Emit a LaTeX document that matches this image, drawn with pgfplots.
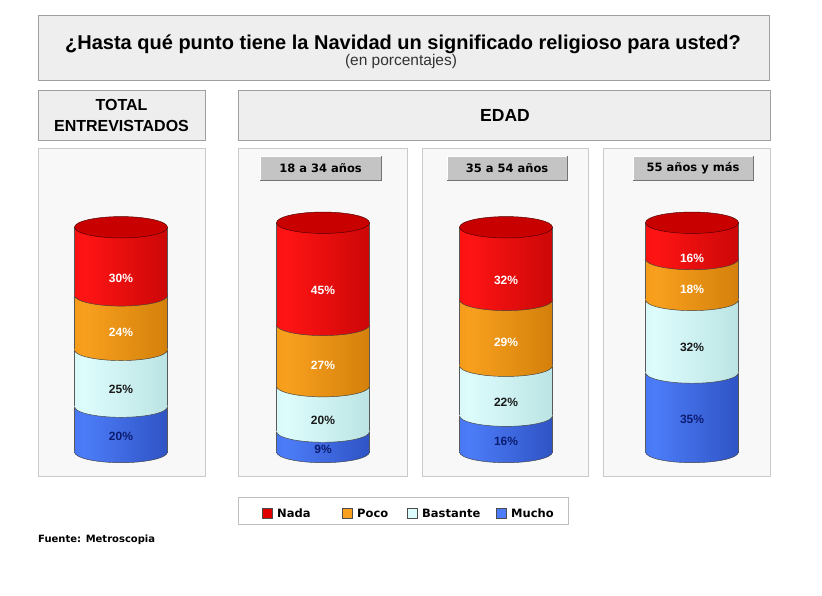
\documentclass[border=0pt]{standalone}
\usepackage{pgfplots}
\pgfplotsset{compat=1.18}
\usepackage{fontspec}
\setmainfont{Liberation Sans}
\newfontfamily\verd{DejaVu Sans}

% cylinder colours (left edge, highlight, right edge)
\definecolor{redL}{HTML}{E00000}
\definecolor{redM}{HTML}{FF1414}
\definecolor{redR}{HTML}{B00000}
\definecolor{redTop}{HTML}{C80000}
\definecolor{orgL}{HTML}{E38600}
\definecolor{orgM}{HTML}{F8A01E}
\definecolor{orgR}{HTML}{BF6E00}
\definecolor{cyaL}{HTML}{C6EEEE}
\definecolor{cyaM}{HTML}{DDFCFC}
\definecolor{cyaR}{HTML}{A9D6D6}
\definecolor{bluL}{HTML}{3060E0}
\definecolor{bluM}{HTML}{4C7CF8}
\definecolor{bluR}{HTML}{1F3DA8}
\definecolor{boxfill}{HTML}{EEEEEE}
\definecolor{boxline}{HTML}{A0A0A0}
\definecolor{panfill}{HTML}{F8F8F8}
\definecolor{panline}{HTML}{CACACA}
\definecolor{tabfill}{HTML}{C4C4C4}
\definecolor{labblue}{HTML}{0C1C70}
\definecolor{labcyan}{HTML}{1A1A1A}

\pgfdeclarehorizontalshading{shred}{100bp}{color(0bp)=(redL); color(30bp)=(redM); color(100bp)=(redR)}
\pgfdeclarehorizontalshading{shorange}{100bp}{color(0bp)=(orgL); color(30bp)=(orgM); color(100bp)=(orgR)}
\pgfdeclarehorizontalshading{shcyan}{100bp}{color(0bp)=(cyaL); color(30bp)=(cyaM); color(100bp)=(cyaR)}
\pgfdeclarehorizontalshading{shblue}{100bp}{color(0bp)=(bluL); color(30bp)=(bluM); color(100bp)=(bluR)}

% lower half of an ellipse: the rounded bottom edge of a cylinder segment
% (reaching a hair above the seam so the joint between segments is hidden)
\newcommand\halfmark[1]{%
  \pgfdeclareplotmark{half#1}{%
    \pgfpathmoveto{\pgfqpoint{-\pgfplotmarksize}{0.9pt}}%
    \pgfpathlineto{\pgfqpoint{-\pgfplotmarksize}{0pt}}%
    \pgfpatharc{180}{360}{\pgfplotmarksize and 0.23\pgfplotmarksize}%
    \pgfpathlineto{\pgfqpoint{\pgfplotmarksize}{0.9pt}}%
    \pgfpathclose
    \pgfshadepath{sh#1}{0}%
    \pgfusepath{discard}%
    \pgfpathmoveto{\pgfqpoint{-\pgfplotmarksize}{0pt}}%
    \pgfpatharc{180}{360}{\pgfplotmarksize and 0.23\pgfplotmarksize}%
    \pgfusepathqstroke}}
\halfmark{red}\halfmark{orange}\halfmark{cyan}\halfmark{blue}
% full ellipse: the lid of a cylinder
\pgfdeclareplotmark{lid}{%
  \pgfpathellipse{\pgfpointorigin}{\pgfqpoint{\pgfplotmarksize}{0pt}}{\pgfqpoint{0pt}{0.23\pgfplotmarksize}}%
  \pgfusepathqfillstroke}

\pgfplotsset{
  seglabel/.style 2 args={
    nodes near coords={\pgfmathprintnumber{\pgfplotspointmeta}\%},
    every node near coord/.append style={anchor=center, yshift=-#2pt,
      font=\bfseries\fontsize{12}{12}\selectfont, text=#1}},
  edge/.style={only marks, mark options={draw=black!75, line width=0.45pt}},
  cylaxis/.style={at={(#1pt-58pt,-452pt)}, anchor=south west,
    x=1pt, y=2.27pt, xmin=-58, xmax=58, ymin=0, ymax=105,
    hide axis, clip=false, /pgf/number format/assume math mode=true}
}

% one stacked cylinder: centre x, Mucho, Bastante, Poco, Nada
\newcommand\cylinder[5]{%
\begin{axis}[cylaxis=#1, ybar stacked, bar width=93pt,
    every axis plot/.append style={draw=black!65, line width=0.45pt}]
  \addplot[shading=shblue] coordinates {(0,#2)};
  \addplot[shading=shcyan] coordinates {(0,#3)};
  \addplot[shading=shorange] coordinates {(0,#4)};
  \addplot[shading=shred] coordinates {(0,#5)};
\end{axis}
% rims and lid, stacked on the same values
\begin{axis}[cylaxis=#1, stack plots=y, mark size=46.5pt]
  \addplot[edge, mark=halfblue] coordinates {(0,0)};
  \addplot[edge, mark=halfcyan] coordinates {(0,#2)};
  \addplot[edge, mark=halforange] coordinates {(0,#3)};
  \addplot[edge, mark=halfred] coordinates {(0,#4)};
  \addplot[only marks, mark=lid, mark options={fill=redTop, draw=red!30!black, line width=0.45pt}] coordinates {(0,#5)};
\end{axis}
% percentage labels on top of everything
\begin{axis}[cylaxis=#1, ybar stacked, bar width=93pt,
    every axis plot/.append style={draw=none, fill=none}]
  \addplot[seglabel={labblue}{7.5}] coordinates {(0,#2)};
  \addplot[seglabel={labcyan}{11.5}] coordinates {(0,#3)};
  \addplot[seglabel={white}{10}] coordinates {(0,#4)};
  \addplot[seglabel={white}{17}] coordinates {(0,#5)};
\end{axis}}

\begin{document}
\begin{tikzpicture}
\path[use as bounding box, fill=white] (0,0) rectangle (822pt,-595pt);
\begin{scope}[x=1pt, y=-1pt]
  % title
  \draw[boxline, fill=boxfill] (38,15) rectangle (769,80);
  \node at (403,44) {\bfseries\fontsize{20}{23}\selectfont ¿Hasta qué punto tiene la Navidad un significado religioso para usted?};
  \node[text=black!80] at (401,61) {\fontsize{15.5}{17}\selectfont (en porcentajes)};
  % headers
  \draw[boxline, fill=boxfill] (38,90) rectangle (205,140);
  \node[align=center, font=\bfseries\fontsize{16}{21}\selectfont] at (121.5,115) {TOTAL\\ENTREVISTADOS};
  \draw[boxline, fill=boxfill] (238,90) rectangle (770,140);
  \node[font=\bfseries\fontsize{17.5}{19}\selectfont] at (505,115) {EDAD};
  % panels
  \foreach \a/\b in {38/205, 238/407, 422/588, 603/770}
    \draw[panline, fill=panfill] (\a,148) rectangle (\b,476);
  % group tabs
  \foreach \a/\b/\t in {260/381/18 a 34 años, 447/567/35 a 54 años, 633/753/55 años y más}{
    \fill[tabfill] (\a,156) rectangle (\b,180);
    \draw[white, line width=1pt] (\a,180) -- (\a,156) -- (\b,156);
    \draw[black!55, line width=1.2pt] (\a,180.5) -- (\b+0.5,180.5) -- (\b+0.5,156);
    \node[font=\verd\bfseries\fontsize{11.5}{12}\selectfont] at ({(\a+\b)/2},168) {\t};
  }
  % legend
  \draw[black!25, fill=white] (238,497) rectangle (568,524);
  \foreach \x/\c/\t in {262/redL/Nada, 342/orgM/Poco, 407/cyaM/Bastante, 496/bluM/Mucho}{
    \draw[black!70, fill=\c] (\x,508) rectangle (\x+10,518);
    \node[anchor=west, font=\verd\bfseries\fontsize{11.5}{12}\selectfont, inner sep=0pt] at (\x+15,513) {\t};
  }
  \node[anchor=west, inner sep=0pt, font=\verd\bfseries\fontsize{10}{12}\selectfont] at (38,540) {Fuente: Metroscopia};
\end{scope}

\cylinder{121}{20}{25}{24}{30}
\cylinder{323}{9}{20}{27}{45}
\cylinder{506}{16}{22}{29}{32}
\cylinder{692}{35}{32}{18}{16}
\end{tikzpicture}
\end{document}
